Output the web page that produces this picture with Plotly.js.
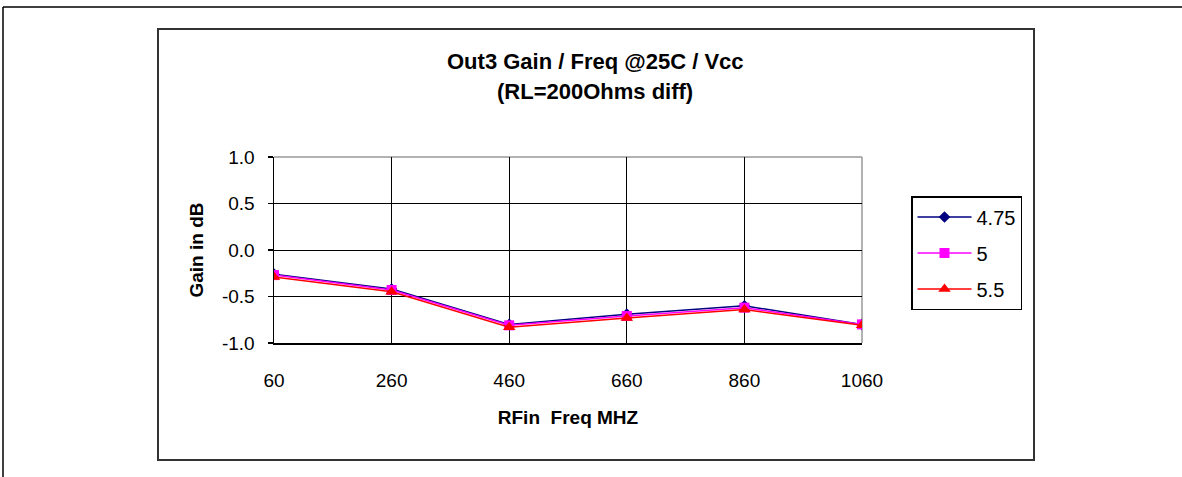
<!DOCTYPE html>
<html>
<head>
<meta charset="utf-8">
<script src="https://cdn.plot.ly/plotly-3.0.1.min.js"></script>
<style>html,body{margin:0;padding:0;background:#fff;}#chart{width:1182px;height:477px;}</style>
</head>
<body>
<div id="chart"></div>
<script>
const freqs = [60, 260, 460, 660, 860, 1060];
const seriesNames = ['4.75', '5', '5.5'];
const gain475 = [-0.26, -0.42, -0.80, -0.69, -0.60, -0.80];
const gain5   = [-0.27, -0.43, -0.81, -0.71, -0.62, -0.80];
const gain55  = [-0.29, -0.45, -0.83, -0.73, -0.64, -0.81];
const yTicks = [-1.0, -0.5, 0.0, 0.5, 1.0];
const titleLine1 = 'Out3 Gain / Freq @25C / Vcc';
const titleLine2 = '(RL=200Ohms diff)';
const xTitle = 'RFin  Freq MHZ';
const yTitle = 'Gain in dB';

const W = 1182, H = 477;
const L = 274, R = 862, T = 157, B = 343;
const px = x => (x - L) / (R - L);
const py = y => (B - y) / (B - T);
const FONT = 'Liberation Sans, Arial, sans-serif';

const traces = [
  {x: freqs, y: gain475, name: seriesNames[0], legendgroup: 'a', mode: 'lines+markers',
   line: {color: '#000080', width: 1.5}, marker: {symbol: 'diamond', size: 9, color: '#000080'}},
  {x: freqs, y: gain5, name: seriesNames[1], legendgroup: 'b', mode: 'lines+markers',
   line: {color: '#FF00FF', width: 1.5}, marker: {symbol: 'square', size: 10, color: '#FF00FF'}},
  {x: freqs, y: gain55, name: seriesNames[2], legendgroup: 'c', mode: 'lines+markers',
   line: {color: '#FF0000', width: 1.5}, marker: {symbol: 'triangle-up', size: 11, color: '#FF0000'}}
];

const layout = {
  width: W, height: H,
  margin: {l: L, r: W - R, t: T, b: H - B, pad: 0},
  paper_bgcolor: '#fff', plot_bgcolor: '#fff',
  showlegend: true,
  legend: {x: px(911), y: py(196), xanchor: 'left', yanchor: 'top',
    bordercolor: '#000', borderwidth: 1.5, bgcolor: '#fff',
    font: {family: FONT, size: 20, color: '#000'}, tracegroupgap: 7,
    itemwidth: 54, traceorder: 'grouped'},
  xaxis: {range: [60, 1060], tickvals: freqs, ticktext: freqs.map(String),
    showgrid: true, gridcolor: '#000', gridwidth: 1,
    showline: true, linecolor: '#000', linewidth: 1.5, zeroline: false,
    ticks: '', ticklen: 0, ticklabelstandoff: 20,
    tickfont: {family: FONT, size: 19, color: '#000'},
    title: {text: '<b>' + xTitle + '</b>', font: {family: FONT, size: 19, color: '#000'}, standoff: 20},
    fixedrange: true},
  yaxis: {range: [-1, 1], tickvals: yTicks, ticktext: yTicks.map(v => v.toFixed(1)),
    showgrid: true, gridcolor: '#000', gridwidth: 1,
    showline: true, linecolor: '#000', linewidth: 1.5, zeroline: false,
    ticks: 'outside', ticklen: 5, tickcolor: '#000', tickwidth: 1.5, ticklabelstandoff: 9,
    tickfont: {family: FONT, size: 19, color: '#000'},
    title: {text: '<b>' + yTitle + '</b>', font: {family: FONT, size: 19, color: '#000'}, standoff: 13},
    fixedrange: true},
  annotations: [
    {text: '<b>' + titleLine1 + '</b>', xref: 'paper', yref: 'paper', x: px(595), y: py(61), showarrow: false,
     xanchor: 'center', yanchor: 'middle', font: {family: FONT, size: 22, color: '#000'}},
    {text: '<b>' + titleLine2 + '</b>', xref: 'paper', yref: 'paper', x: px(595), y: py(91), showarrow: false,
     xanchor: 'center', yanchor: 'middle', font: {family: FONT, size: 22, color: '#000'}}
  ],
  shapes: [
    {type: 'line', xref: 'paper', yref: 'paper', x0: px(3), x1: px(1182), y0: py(7), y1: py(7), line: {color: '#000', width: 1.5}, layer: 'above'},
    {type: 'line', xref: 'paper', yref: 'paper', x0: px(3), x1: px(3), y0: py(7), y1: py(477), line: {color: '#000', width: 1.5}, layer: 'above'},
    {type: 'rect', xref: 'paper', yref: 'paper', x0: px(158), x1: px(1034), y0: py(29), y1: py(460), line: {color: '#333', width: 2}, layer: 'below'},
    {type: 'line', xref: 'paper', yref: 'paper', x0: 0, x1: 1, y0: 1, y1: 1, line: {color: '#999', width: 1.5}, layer: 'below'},
    {type: 'line', xref: 'paper', yref: 'paper', x0: 1, x1: 1, y0: 0, y1: 1, line: {color: '#999', width: 1.5}, layer: 'below'}
  ]
};

Plotly.newPlot('chart', traces, layout, {displayModeBar: false, staticPlot: true});
</script>
</body>
</html>
